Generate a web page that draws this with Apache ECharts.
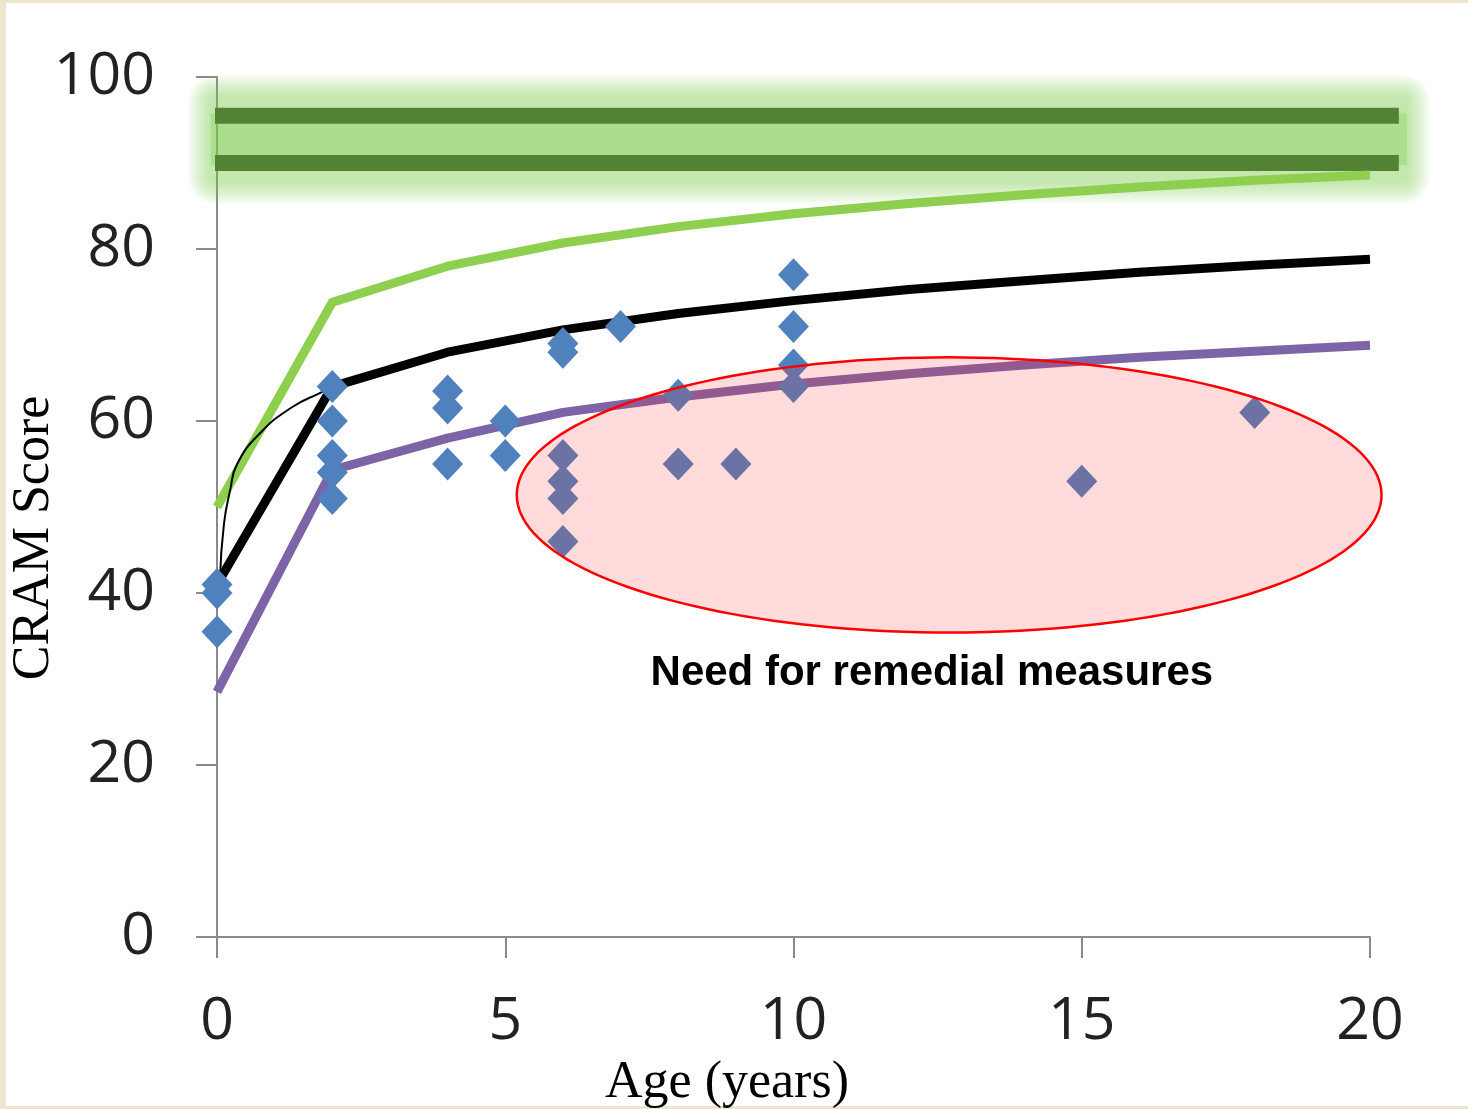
<!DOCTYPE html>
<html>
<head>
<meta charset="utf-8">
<script src="https://cdn.jsdelivr.net/npm/echarts@6/dist/echarts.min.js"></script>
<style>
  html, body { margin: 0; padding: 0; background: #efe4cc; }
  #chart { width: 1468px; height: 1109px; }
</style>
</head>
<body>
<div id="chart"></div>
<script>
// Age (years) vs CRAM score: reference curves, observed sites and target band
const ageTicks = [0, 5, 10, 15, 20];
const scoreTicks = [0, 20, 40, 60, 80, 100];

// Upper, median and lower expected-score curves
const upperCurve = [[0, 50], [2, 73.8], [4, 78], [6, 80.7], [8, 82.6], [10, 84.1], [12, 85.3], [14, 86.3], [16, 87.2], [18, 88], [20, 88.6]];
const medianCurve = [[0, 41], [2, 64], [4, 68], [6, 70.6], [8, 72.5], [10, 74], [12, 75.3], [14, 76.3], [16, 77.3], [18, 78.1], [20, 78.8]];
const lowerCurve = [[0, 28.5], [2, 54.3], [4, 58], [6, 61], [8, 62.8], [10, 64.3], [12, 65.5], [14, 66.5], [16, 67.4], [18, 68.1], [20, 68.8]];
// Early-age fitted curve (thin line)
const earlyFit = [[0.05, 41.5], [0.12, 48], [0.23, 52], [0.35, 55], [0.75, 58.6], [1.3, 61.6], [1.8, 63.3], [2, 64]];

// Observed sites: age and CRAM score
const siteAges = [0, 0, 0, 2, 2, 2, 2, 2, 4, 4, 4, 5, 5, 6, 6, 6, 6, 6, 6, 7, 8, 8, 9, 10, 10, 10, 10, 15, 18];
const siteScores = [41, 40, 35.5, 64, 60, 56, 54, 51, 63.5, 61.5, 55, 60, 56, 69, 68, 56, 53, 51, 46, 71, 63, 55, 55, 77, 71, 66.5, 64, 53, 61];

// Reference-condition band (two bounding levels) and its age span
const bandLevels = [95.5, 90];
const bandSpan = [0, 20.5];

// Remedial-measures zone: centre age, centre score, half-width (years), half-height (score)
const remedialZone = [12.7, 51.4, 7.5, 16];
const remedialLabel = 'Need for remedial measures';
const remedialLabelAt = [12.4, 30.7];

const chart = echarts.init(document.getElementById('chart'), null, { renderer: 'canvas' });

const tickFont = { fontFamily: '"Open Sans", sans-serif', fontSize: 59, color: '#222' };
const axisGrey = '#8a8a8a';
const serifTitle = '52px "Liberation Serif", "Times New Roman", serif';

const option = {
  backgroundColor: '#efe4cc',
  animation: false,
  graphic: [
    { type: 'rect', z: -10, shape: { x: 6, y: 3, width: 1462, height: 1103 }, style: { fill: '#ffffff' } },
    { type: 'text', z: 10, x: 34, y: 538, rotation: Math.PI / 2,
      style: { text: 'CRAM Score', font: serifTitle, fill: '#000', align: 'center', verticalAlign: 'middle' } },
    { type: 'text', z: 10, x: 727, y: 1083,
      style: { text: 'Age (years)', font: serifTitle, fill: '#000', align: 'center', verticalAlign: 'middle' } }
  ],
  grid: { left: 217, right: 98, top: 77, bottom: 172, containLabel: false },
  xAxis: {
    type: 'value', min: ageTicks[0], max: ageTicks[ageTicks.length - 1], interval: 5,
    axisLine: { show: true, onZero: false, lineStyle: { color: axisGrey, width: 2 } },
    axisTick: { show: true, length: 21, lineStyle: { color: axisGrey, width: 2 } },
    axisLabel: Object.assign({ margin: 56 }, tickFont),
    splitLine: { show: false }
  },
  yAxis: {
    type: 'value', min: scoreTicks[0], max: scoreTicks[scoreTicks.length - 1], interval: 20,
    axisLine: { show: true, onZero: false, lineStyle: { color: axisGrey, width: 2 } },
    axisTick: { show: true, length: 21, lineStyle: { color: axisGrey, width: 2 } },
    axisLabel: Object.assign({ margin: 62 }, tickFont),
    splitLine: { show: false }
  },
  series: [
    {
      // glowing reference band with its two bounding lines
      type: 'custom', z: 1, silent: true, clip: false,
      data: [[bandSpan[0], bandSpan[1], bandLevels[0], bandLevels[1]]],
      renderItem: function (params, api) {
        const pTop = api.coord([api.value(0), api.value(2)]);
        const pBot = api.coord([api.value(1), api.value(3)]);
        const x0 = pTop[0], x1 = pBot[0], yA = pTop[1], yB = pBot[1];
        const children = [];
        // soft halo: stacked translucent layers fading outwards
        const layers = 9;
        for (let k = 0; k < layers; k++) {
          const grow = k * 2.6;
          children.push({
            type: 'rect',
            shape: { x: x0 - 8 - grow, y: yA - 20 - grow, width: x1 - x0 + 18 + 2 * grow, height: yB - yA + 40 + 2 * grow, r: 6 + grow },
            style: { fill: 'rgba(125,205,80,0.064)' }
          });
        }
        // brighter core between the two levels
        children.push({
          type: 'rect', shape: { x: x0 - 6, y: yA - 2, width: x1 - x0 + 14, height: yB - yA + 4 },
          style: { fill: 'rgba(125,205,80,0.30)', shadowBlur: 10, shadowColor: 'rgba(125,205,80,0.3)' }
        });
        children.push({ type: 'line', shape: { x1: x0 - 2, y1: yA, x2: x1, y2: yA }, style: { stroke: '#548235', lineWidth: 16 } });
        children.push({ type: 'line', shape: { x1: x0 - 2, y1: yB, x2: x1, y2: yB }, style: { stroke: '#548235', lineWidth: 16 } });
        return { type: 'group', children: children };
      }
    },
    { type: 'line', z: 2, data: upperCurve, symbol: 'none', smooth: false, lineStyle: { color: '#8ecf50', width: 9, join: 'round' } },
    { type: 'line', z: 2, data: lowerCurve, symbol: 'none', smooth: false, lineStyle: { color: '#7d64a6', width: 9, join: 'round' } },
    { type: 'line', z: 3, data: medianCurve, symbol: 'none', smooth: false, lineStyle: { color: '#000000', width: 9, join: 'round' } },
    { type: 'line', z: 3, data: earlyFit, symbol: 'none', smooth: true, lineStyle: { color: '#000000', width: 2 } },
    {
      type: 'scatter', z: 4,
      data: siteAges.map((a, i) => [a, siteScores[i]]),
      symbol: 'diamond', symbolSize: [31, 33],
      itemStyle: { color: '#4f81bd', opacity: 1 }
    },
    {
      // remedial-measures zone drawn over the data
      type: 'custom', z: 5, silent: true, clip: false,
      data: [remedialZone],
      renderItem: function (params, api) {
        const c = api.coord([api.value(0), api.value(1)]);
        const ex = api.coord([api.value(0) + api.value(2), api.value(1)])[0] - c[0];
        const ey = c[1] - api.coord([api.value(0), api.value(1) + api.value(3)])[1];
        const pts = [];
        for (let k = 0; k < 180; k++) {
          const t = (k / 180) * Math.PI * 2;
          pts.push([c[0] + ex * Math.cos(t), c[1] + ey * Math.sin(t)]);
        }
        const lab = api.coord(remedialLabelAt);
        return {
          type: 'group',
          children: [
            { type: 'polygon', shape: { points: pts }, style: { fill: 'rgba(255,40,40,0.17)', stroke: '#ff0000', lineWidth: 2.5 } },
            { type: 'text', x: lab[0], y: lab[1],
              style: { text: remedialLabel, font: 'bold 42px "Liberation Sans", Arial, sans-serif', fill: '#000', align: 'center', verticalAlign: 'middle' } }
          ]
        };
      }
    }
  ]
};

chart.setOption(option);
</script>
</body>
</html>
